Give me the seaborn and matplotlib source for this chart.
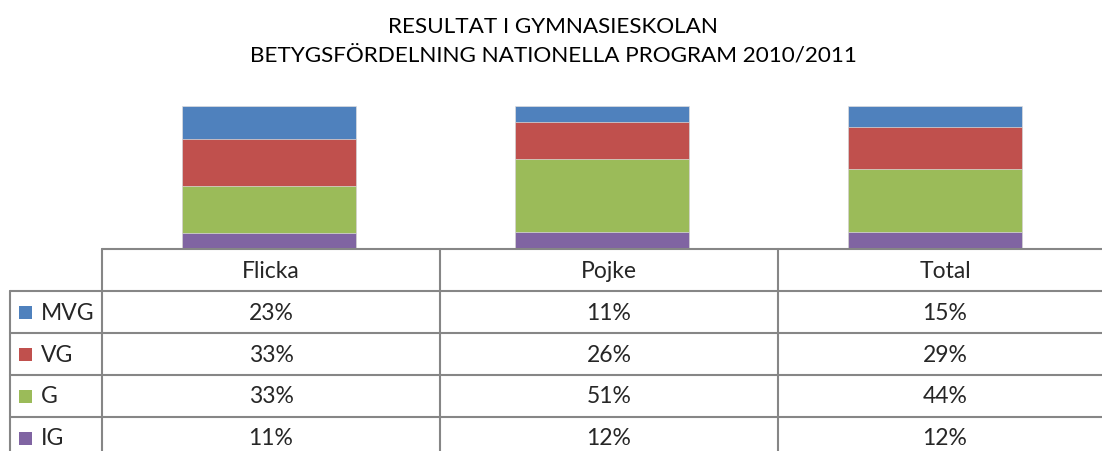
import matplotlib
matplotlib.use("Agg")
import matplotlib.pyplot as plt
import seaborn as sns
import pandas as pd

# data
groups = ["Flicka", "Pojke", "Total"]
grades = ["MVG", "VG", "G", "IG"]
mvg = [23, 11, 15]
vg = [33, 26, 29]
g = [33, 51, 44]
ig = [11, 12, 12]
colors = {"MVG": "#4F81BD", "VG": "#C0504D", "G": "#9BBB59", "IG": "#8064A2"}

sns.set_style("white")
plt.rcParams["font.family"] = ["Lato", "DejaVu Sans"]

W, H = 1102, 452
fig = plt.figure(figsize=(W / 100, H / 100), dpi=100)

def fx(px):
    return px / W

def fy(py):
    return 1 - py / H

# 100% stacked bars: draw cumulative sums, tallest first
values = {"MVG": mvg, "VG": vg, "G": g, "IG": ig}
df = pd.DataFrame(values, index=groups)
totals = df.sum(axis=1)
stack_order = ["IG", "G", "VG", "MVG"]
cum = df[stack_order].cumsum(axis=1).div(totals, axis=0)

ax = fig.add_axes([fx(102), fy(250), fx(1102) - fx(102), fy(107) - fy(250)])
for grade in reversed(stack_order):
    sub = pd.DataFrame({"grupp": groups, "andel": cum[grade].values})
    sns.barplot(data=sub, x="grupp", y="andel", color=colors[grade],
                saturation=1, width=0.522, ax=ax, order=groups,
                edgecolor="#dddddd", linewidth=0.5)
ax.set_xlim(-0.5, 2.5)
ax.set_ylim(0, 1)
ax.axis("off")

# title
fig.text(fx(553), fy(27), "RESULTAT I GYMNASIESKOLAN",
         ha="center", va="center", fontsize=16.2, color="black")
fig.text(fx(553), fy(55), "BETYGSFÖRDELNING NATIONELLA PROGRAM 2010/2011",
         ha="center", va="center", fontsize=16.2, color="black")

# data table
line_kw = dict(color="#868686", lw=1.5, transform=fig.transFigure)
row_y = [250, 292, 334, 376, 418]
for i, yy in enumerate(row_y):
    x0 = 102 if i == 0 else 10
    fig.add_artist(plt.Line2D([fx(x0), fx(1102)], [fy(yy), fy(yy)], **line_kw))
fig.add_artist(plt.Line2D([fx(10), fx(10)], [fy(292), fy(452)], **line_kw))
col_x = [102, 440, 778]
for xx in col_x:
    fig.add_artist(plt.Line2D([fx(xx), fx(xx)], [fy(250), fy(452)], **line_kw))

col_centers = [271, 609, 945]
fs = 16.5
for c, name in zip(col_centers, groups):
    fig.text(fx(c), fy(272), name, ha="center", va="center", fontsize=fs)

for r, grade in enumerate(grades):
    yc = (row_y[r + 1] + (row_y[r + 2] if r + 2 < len(row_y) else 460)) / 2
    fig.add_artist(plt.Rectangle((fx(19), fy(yc + 6.5)), fx(13), fy(yc - 6.5) - fy(yc + 6.5),
                                 transform=fig.transFigure, color=colors[grade], lw=0))
    fig.text(fx(41), fy(yc), grade, ha="left", va="center", fontsize=fs)
    for c, v in zip(col_centers, values[grade]):
        fig.text(fx(c), fy(yc), f"{v}%", ha="center", va="center", fontsize=fs)

fig.savefig("out.png", dpi=100)
